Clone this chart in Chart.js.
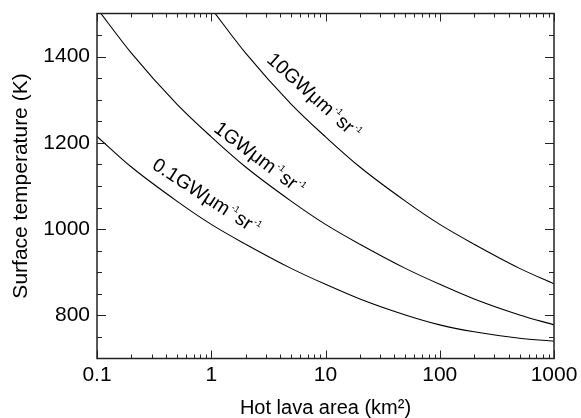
<!DOCTYPE html>
<html>
<head>
<meta charset="utf-8">
<script src="https://cdn.jsdelivr.net/npm/chart.js@4.4.1/dist/chart.umd.min.js"></script>
<style>
  html, body { margin: 0; padding: 0; background: #fff; }
  #wrap { width: 581px; height: 418px; }
</style>
</head>
<body>
<div id="wrap"><canvas id="chart"></canvas></div>
<script>
// hot lava area (km2) and surface temperature (K)
var area = [0.1, 0.2, 0.5, 1, 2, 5, 10, 20, 50, 100, 200, 500, 1000];
var temp01 = [1215, 1144, 1065, 1011, 965, 909, 872, 838, 801, 778, 762, 747, 740];
var temp1 = [1512, 1408, 1290, 1214, 1144, 1065, 1011, 965, 909, 872, 838, 801, 778];
var area10 = [1, 2, 5, 10, 20, 50, 100, 200, 500, 1000];
var temp10 = [1512, 1408, 1290, 1214, 1144, 1065, 1011, 965, 909, 873];
var radiance = ['0.1', '1', '10'];
var xTicks = [0.1, 1, 10, 100, 1000];
var yTicks = [800, 1000, 1200, 1400];

var FONT = '"Liberation Sans", Arial, Helvetica, sans-serif';

function pts(xs, ys) {
  return xs.map(function (x, i) { return { x: x, y: ys[i] }; });
}

function lineSet(xs, ys) {
  return {
    data: pts(xs, ys),
    borderColor: '#000',
    borderWidth: 1.1,
    pointRadius: 0,
    fill: false,
    cubicInterpolationMode: 'monotone'
  };
}

// box with inward ticks on all four sides
var frame = {
  id: 'frame',
  afterDatasetsDraw: function (chart) {
    var ctx = chart.ctx, a = chart.chartArea;
    var xs = chart.scales.x, ys = chart.scales.y;
    ctx.save();
    ctx.strokeStyle = '#222';
    ctx.lineWidth = 1;
    ctx.beginPath();
    for (var e = -1; e <= 2; e++) {
      var base = Math.pow(10, e);
      for (var k = 1; k <= 10; k++) {
        if (k === 10 && e < 2) continue;
        var px = Math.round(xs.getPixelForValue(base * k)) + 0.5;
        var len = (k === 1 || k === 10) ? 8 : 4;
        ctx.moveTo(px, a.bottom); ctx.lineTo(px, a.bottom - len);
        ctx.moveTo(px, a.top); ctx.lineTo(px, a.top + len);
      }
    }
    for (var v = 750; v < 1500; v += 50) {
      var py = Math.round(ys.getPixelForValue(v)) + 0.5;
      var l = (v % 200 === 0) ? 9 : 5;
      ctx.moveTo(a.left, py); ctx.lineTo(a.left + l, py);
      ctx.moveTo(a.right, py); ctx.lineTo(a.right - l, py);
    }
    ctx.stroke();
    ctx.lineWidth = 1.5;
    ctx.strokeRect(a.left, a.top, a.right - a.left, a.bottom - a.top);
    ctx.restore();
  }
};

// rotated labels along the curves
var curveLabels = {
  id: 'curveLabels',
  afterDatasetsDraw: function (chart, args, opts) {
    var ctx = chart.ctx, xs = chart.scales.x, ys = chart.scales.y;
    opts.items.forEach(function (it) {
      var x = xs.getPixelForValue(it.x), y = ys.getPixelForValue(it.y);
      ctx.save();
      ctx.translate(x, y);
      ctx.rotate(it.angle * Math.PI / 180);
      ctx.fillStyle = '#000';
      ctx.textBaseline = 'alphabetic';
      var big = '19.5px ' + FONT, small = '9px ' + FONT;
      var cx = 0;
      ctx.font = big;
      ctx.fillText(it.text + 'GWμm', cx, 0);
      cx += ctx.measureText(it.text + 'GWμm').width + 1;
      ctx.font = small;
      ctx.fillText('-1', cx, -9);
      cx += ctx.measureText('-1').width + 1.5;
      ctx.font = big;
      ctx.fillText('sr', cx, 0);
      cx += ctx.measureText('sr').width + 1;
      ctx.font = small;
      ctx.fillText('-1', cx, -9);
      ctx.restore();
    });
  }
};

new Chart(document.getElementById('chart'), {
  type: 'line',
  data: {
    datasets: [lineSet(area, temp01), lineSet(area, temp1), lineSet(area10, temp10)]
  },
  options: {
    responsive: true,
    maintainAspectRatio: false,
    animation: false,
    events: [],
    layout: { padding: { top: 13.5, right: 27, left: 0, bottom: 0 } },
    plugins: {
      legend: { display: false },
      tooltip: { enabled: false },
      curveLabels: {
        items: [
          { text: radiance[2], x: 3.0, y: 1390, angle: 42 },
          { text: radiance[1], x: 1.03, y: 1228, angle: 37 },
          { text: radiance[0], x: 0.297, y: 1142, angle: 33 }
        ]
      }
    },
    scales: {
      x: {
        type: 'logarithmic',
        min: 0.1,
        max: 1000,
        afterBuildTicks: function (s) { s.ticks = xTicks.map(function (v) { return { value: v }; }); },
        afterFit: function (s) {
          s.height = 59.5;
          s.paddingLeft = 0; s.paddingRight = 0;
        },
        grid: { display: false, drawTicks: false },
        border: { display: false },
        ticks: {
          color: '#000',
          padding: 4,
          maxRotation: 0,
          autoSkip: false,
          font: { family: FONT, size: 21 },
          callback: function (v) { return xTicks.indexOf(v) >= 0 ? String(v) : ''; }
        },
        title: {
          display: true,
          text: 'Hot lava area (km²)',
          color: '#000',
          padding: { top: 0, bottom: 0 },
          font: { family: FONT, size: 20, lineHeight: 1 }
        }
      },
      y: {
        type: 'linear',
        min: 700,
        max: 1500,
        afterBuildTicks: function (s) { s.ticks = yTicks.map(function (v) { return { value: v }; }); },
        afterFit: function (s) {
          s.width = 97;
          s.paddingTop = 0; s.paddingBottom = 0;
        },
        grid: { display: false, drawTicks: false },
        border: { display: false },
        ticks: {
          color: '#000',
          padding: 7,
          font: { family: FONT, size: 21 },
          callback: function (v) { return String(v); }
        },
        title: {
          display: true,
          text: 'Surface temperature (K)',
          color: '#000',
          padding: { top: 10.5, bottom: 0 },
          font: { family: FONT, size: 21, lineHeight: 1 }
        }
      }
    }
  },
  plugins: [frame, curveLabels]
});
</script>
</body>
</html>
